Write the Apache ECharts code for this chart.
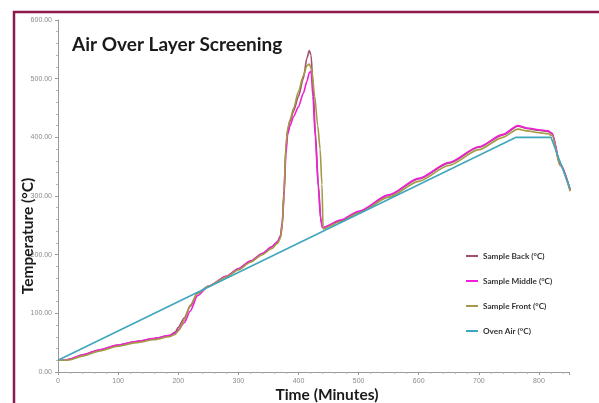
<!DOCTYPE html>
<html>
<head>
<meta charset="utf-8">
<script src="https://cdn.jsdelivr.net/npm/echarts@6/dist/echarts.min.js"></script>
<style>html,body{margin:0;padding:0;background:#fff;}#c{width:599px;height:403px;}</style>
</head>
<body>
<div id="c"></div>
<script>
const seriesNames = ['Sample Back (°C)', 'Sample Middle (°C)', 'Sample Front (°C)', 'Oven Air (°C)'];
const xTicks = [0, 100, 200, 300, 400, 500, 600, 700, 800];
const yTicks = [0, 100, 200, 300, 400, 500, 600];

const backTime = [0, 10, 20, 40, 70, 100, 130, 160, 185, 195, 200, 210, 220, 232, 250, 280, 300, 320, 340, 355, 365, 370, 373, 376, 379, 382, 386, 392, 400, 408, 414, 418, 421, 424, 428, 433, 437, 440, 470, 500, 550, 600, 650, 700, 740, 765, 780, 800, 815, 822, 835, 852];
const backTemp = [20, 20, 22, 29, 38, 46, 52, 57, 62, 68, 76, 92, 112, 134, 146, 163, 176, 189, 202, 213, 222, 232, 255, 310, 380, 412, 428, 445, 470, 500, 535, 548, 540, 490, 410, 320, 262, 246, 258, 273, 301, 329, 356, 383, 404, 419, 415, 412, 410, 406, 355, 310];

const middleTime = [0, 10, 20, 40, 70, 100, 130, 160, 185, 195, 200, 210, 220, 232, 250, 280, 300, 320, 340, 355, 365, 370, 373, 376, 379, 382, 386, 392, 400, 408, 414, 418, 421, 424, 428, 433, 437, 440, 470, 500, 550, 600, 650, 700, 740, 765, 780, 800, 815, 822, 835, 852];
const middleTemp = [20, 20, 22, 29, 38, 46, 52, 57, 62, 66, 72, 84, 104, 130, 146, 163, 176, 189, 202, 213, 222, 230, 250, 300, 370, 405, 420, 436, 452, 475, 495, 510, 513, 470, 400, 315, 260, 246, 259, 274, 302, 330, 357, 384, 405, 420, 416, 413, 411, 407, 355, 310];

const frontTime = [0, 10, 20, 40, 70, 100, 130, 160, 185, 195, 200, 210, 220, 232, 250, 280, 300, 320, 340, 355, 365, 370, 373, 376, 379, 382, 386, 392, 400, 408, 414, 418, 422, 427, 432, 436, 439, 441, 470, 500, 550, 600, 650, 700, 740, 765, 780, 800, 815, 822, 835, 852];
const frontTemp = [20, 20, 21, 27, 36, 44, 50, 55, 60, 64, 70, 88, 114, 134, 146, 162, 174, 187, 200, 210, 219, 228, 250, 305, 385, 415, 430, 450, 478, 505, 522, 525, 515, 470, 420, 380, 320, 244, 256, 271, 298, 325, 352, 379, 400, 414, 411, 408, 406, 403, 352, 308];

const ovenTime = [0, 762, 820, 852];
const ovenTemp = [20, 400, 400, 312];

const colors = ['#a2506c', '#f01fd8', '#a39a45', '#3fa7bd'];

function pairs(t, v) { return t.map((x, i) => [x, v[i]]); }

const chart = echarts.init(document.getElementById('c'), null, {renderer: 'canvas'});
const axisGray = '#9a9a9a';
const labelGray = '#8a8a8a';

function mkSeries(name, t, v, color, smooth) {
  return {
    name: name, type: 'line', data: pairs(t, v), showSymbol: false, symbol: 'none',
    smooth: smooth, smoothMonotone: 'x',
    lineStyle: {color: color, width: 1.6}, itemStyle: {color: color}
  };
}

chart.setOption({
  animation: false,
  backgroundColor: '#ffffff',
  grid: {left: 58, top: 20, right: 30, bottom: 31, containLabel: false},
  xAxis: {
    type: 'value', min: 0, max: 850, interval: 100,
    axisLine: {show: true, lineStyle: {color: axisGray, width: 1}},
    axisTick: {show: true, length: 3, lineStyle: {color: axisGray}},
    minorTick: {show: true, splitNumber: 5, length: 2, lineStyle: {color: '#b5b5b5'}},
    splitLine: {show: false},
    axisLabel: {fontSize: 7, color: labelGray, margin: 6, fontFamily: 'Liberation Sans',
      formatter: v => xTicks.indexOf(v) >= 0 ? String(v) : ''}
  },
  yAxis: {
    type: 'value', min: 0, max: 600, interval: 100,
    axisLine: {show: true, lineStyle: {color: axisGray, width: 1}},
    axisTick: {show: true, length: 3, lineStyle: {color: axisGray}},
    minorTick: {show: true, splitNumber: 5, length: 2, lineStyle: {color: '#b5b5b5'}},
    splitLine: {show: false},
    axisLabel: {fontSize: 7, color: labelGray, margin: 6, fontFamily: 'Liberation Sans',
      formatter: v => yTicks.indexOf(v) >= 0 ? v.toFixed(2) : ''}
  },
  legend: {
    orient: 'vertical', left: 461, top: 246,
    itemWidth: 12, itemHeight: 2, itemGap: 15,
    icon: 'rect',
    data: seriesNames,
    textStyle: {fontSize: 8.2, fontWeight: 'bold', color: '#333', fontFamily: 'Lato', lineHeight: 10}
  },
  graphic: [
    {type: 'polyline', shape: {points: [[14, 403], [14, 12], [599, 12]]},
      style: {stroke: '#8c1a4c', lineWidth: 2.5, fill: null}, z: 100},
    {type: 'text', left: 72, top: 35,
      style: {text: 'Air Over Layer Screening', fontSize: 19, fontWeight: 'bold', fill: '#1a1a1a', fontFamily: 'Lato'}},
    {type: 'text', x: 28, y: 236, rotation: Math.PI / 2,
      style: {text: 'Temperature (°C)', fontSize: 15.5, fontWeight: 'bold', fill: '#1a1a1a', fontFamily: 'Lato',
        textAlign: 'center', textVerticalAlign: 'middle'}},
    {type: 'text', x: 327, y: 395,
      style: {text: 'Time (Minutes)', fontSize: 15.5, fontWeight: 'bold', fill: '#1a1a1a', fontFamily: 'Lato',
        textAlign: 'center', textVerticalAlign: 'middle'}}
  ],
  series: [
    mkSeries(seriesNames[0], backTime, backTemp, colors[0], 0.25),
    mkSeries(seriesNames[1], middleTime, middleTemp, colors[1], 0.25),
    mkSeries(seriesNames[2], frontTime, frontTemp, colors[2], 0.25),
    mkSeries(seriesNames[3], ovenTime, ovenTemp, colors[3], false)
  ]
});
</script>
</body>
</html>
